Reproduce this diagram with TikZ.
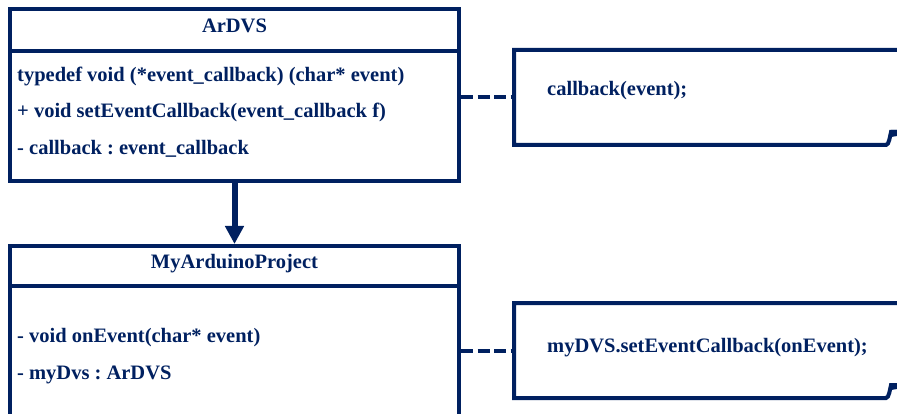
\documentclass[tikz,border=0pt]{standalone}
\usepackage{fontspec}
\setmainfont{Liberation Serif}
\usepackage{tikz}
\usetikzlibrary{arrows.meta}
\usetikzlibrary{positioning}
\usetikzlibrary{calc}

\definecolor{umlblue}{RGB}{0,32,96}
\newcommand{\umlfont}{\fontsize{20.5}{24}\selectfont\bfseries\frenchspacing}

\tikzset{
  classbox/.style={draw, line width=4pt, minimum width=449pt, inner sep=0pt, outer sep=2pt},
  classname/.style={anchor=base, inner sep=0pt},
  member/.style={anchor=base west, inner sep=0pt},
  notebox/.style={minimum width=400pt, minimum height=95pt, inner sep=0pt, outer sep=0pt},
  dep/.style={line width=4pt, dash pattern=on 12pt off 4.5pt},
}

\begin{document}
\begin{tikzpicture}[x=1pt, y=-1pt, color=umlblue, font=\umlfont]

 \path[use as bounding box, clip] (0,0) rectangle (897,414);

 % class ArDVS
 \node[classbox, minimum height=172pt] (ardvs) at (234.5,95) {};
 \node[classname] (ardvsname) at (234.5,33) {ArDVS};
 \draw[line width=4pt] (ardvs.west |- 0,51) -- (ardvs.east |- 0,51);

 \foreach \y/\nm/\txt in {82/typedef/typedef void (*event\_callback) (char* event),
                          118/setter/+ void setEventCallback(event\_callback f),
                          155/field/- callback : event\_callback} {
         \node[member] (ardvs-\nm) at (17,\y) {\txt};
 }

 % class MyArduinoProject
 \node[classbox, minimum height=254pt] (myproj) at (234.5,373) {};
 \node[classname] (myprojname) at (234.5,269) {MyArduinoProject};
 \draw[line width=4pt] (myproj.west |- 0,286) -- (myproj.east |- 0,286);

 \foreach \y/\nm/\txt in {342/onevent/- void onEvent(char* event),
                          379/mydvs/- myDvs : ArDVS} {
         \node[member] (myproj-\nm) at (17,\y) {\txt};
 }

 % inheritance
 \draw[line width=6pt, -{Triangle[width=18pt,length=18pt]}] (ardvs.south) -- (myproj.north);

 % notes
 \node[notebox] (cbnote) at (714,97.5) {};
 \node[member] (cbtext) at (547,96) {callback(event);};
 \draw[line width=4pt] (cbnote.north east) -- (cbnote.north west) -- (cbnote.south west)
     -- ++(372,0) .. controls +(3,0) and +(-1,4) .. ++(5,-13) -- ++(8,0);
 \fill ($(cbnote.south west)+(377,-15)$) -- ++(6,0) -- ++(0,6) -- ++(-6,1) -- cycle;

 \node[notebox] (mdnote) at (714,350.5) {};
 \node[member] (mdtext) at (547,352) {myDVS.setEventCallback(onEvent);};
 \draw[line width=4pt] (mdnote.north east) -- (mdnote.north west) -- (mdnote.south west)
     -- ++(372,0) .. controls +(3,0) and +(-1,4) .. ++(5,-13) -- ++(8,0);
 \fill ($(mdnote.south west)+(377,-15)$) -- ++(6,0) -- ++(0,6) -- ++(-6,1) -- cycle;

 % lines
 \draw[dep] (ardvs.east |- cbnote.west) -- (cbnote.west);
 \draw[dep] (myproj.east |- mdnote.west) -- (mdnote.west);

\end{tikzpicture}
\end{document}
